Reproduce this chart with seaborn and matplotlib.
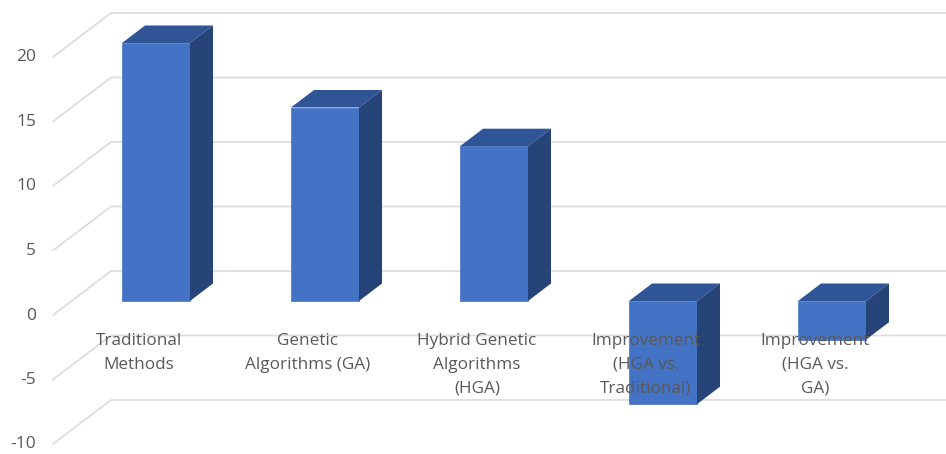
import matplotlib
matplotlib.use("Agg")
import matplotlib.pyplot as plt
from matplotlib.patches import Polygon
import pandas as pd
import seaborn as sns

categories = [
    "Traditional\nMethods",
    "Genetic\nAlgorithms (GA)",
    "Hybrid Genetic\nAlgorithms\n(HGA)",
    "Improvement\n(HGA vs.\nTraditional)",
    "Improvement\n(HGA vs.\nGA)",
]
values = [20, 15, 12, 8, 3]
# The two improvement columns hang below the baseline.
signs = [1, 1, 1, -1, -1]
y_ticks = [20, 15, 10, 5, 0, -5, -10]

FRONT = "#4472C4"
TOP = "#2F5597"
SIDE = "#264478"
GRID = "#DDDDDD"
TEXT = "#595959"

sns.set_theme(style="white")
plt.rcParams["font.family"] = ["Open Sans", "DejaVu Sans"]

W, H = 946, 454
PX_X = 169.0   # pixels per category
PX_Y = 12.9    # pixels per value unit
dx = lambda px: px / PX_X
dy = lambda px: px / PX_Y

fig = plt.figure(figsize=(W / 100, H / 100), dpi=100)
ax = fig.add_axes([0, 0, 1, 1])

df = pd.DataFrame({
    "category": categories,
    "value": [v * s for v, s in zip(values, signs)],
})
sns.barplot(data=df, x="category", y="value", color=FRONT, saturation=1,
            width=68 / PX_X, ax=ax, zorder=3, edgecolor=FRONT, linewidth=0.5)

ax.set_xlim(-156 / PX_X, (W - 156) / PX_X)
ax.set_ylim(-(H - 301) / PX_Y, 301 / PX_Y)
ax.set_axis_off()

# Wall and floor gridlines of the 3-D frame.
wall_left = dx(53 - 156)
wall_back = dx(111 - 156)
wall_right = dx(W - 156)
front_shift = dy(-14)
back_shift = dy(30)
for v in y_ticks:
    ax.plot([wall_left, wall_back, wall_right],
            [v + front_shift, v + back_shift, v + back_shift],
            color=GRID, lw=1.3, zorder=1, solid_joinstyle="miter")
    ax.text(dx(36 - 156), v + front_shift - dy(0.5), str(v), ha="right", va="center",
            fontsize=12.5, color=TEXT, zorder=5)

# Extrude each bar with a top and a side face.
depth_x, depth_y = dx(23), dy(17.5)
for bar in ax.patches[:len(categories)]:
    x0, x1 = bar.get_x(), bar.get_x() + bar.get_width()
    y0, y1 = sorted((bar.get_y(), bar.get_y() + bar.get_height()))
    ax.add_patch(Polygon([(x0, y1), (x1, y1), (x1 + depth_x, y1 + depth_y),
                          (x0 + depth_x, y1 + depth_y)],
                         closed=True, fc=TOP, ec="none", zorder=3))
    ax.add_patch(Polygon([(x1, y0), (x1, y1), (x1 + depth_x, y1 + depth_y),
                          (x1 + depth_x, y0 + depth_y)],
                         closed=True, fc=SIDE, ec="none", zorder=3))

for i, label in enumerate(categories):
    ax.text(i + dx(-17), dy(-32), label, ha="center", va="top",
            fontsize=12.3, color=TEXT, linespacing=1.63, zorder=6)

fig.savefig("out.png", dpi=100)
